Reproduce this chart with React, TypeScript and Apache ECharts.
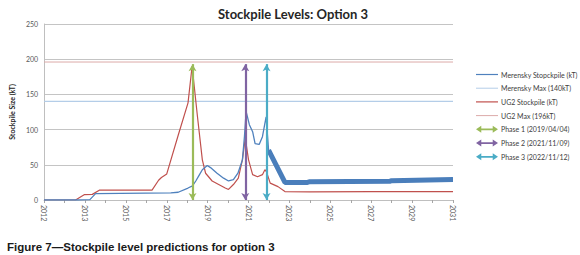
import React, { useEffect, useRef } from "react";
import * as echarts from "echarts";

// x positions are in axis-tick units (tick 0 = "2012", tick 10 = "2031")
const xTickLabels = ["2012", "2013", "2015", "2017", "2019", "2021", "2023", "2025", "2027", "2029", "2031"];
const yTicks = { min: 0, max: 250, step: 50 };

const merenskyStockpile: [number, number][] = [
  [0, 0], [0.82, 0], [1.12, 0.5], [1.26, 9], [3.1, 10], [3.28, 11], [3.52, 17], [3.63, 20],
  [3.71, 27], [3.79, 35], [3.87, 43], [3.99, 49], [4.07, 46], [4.23, 38], [4.39, 31], [4.51, 27],
  [4.63, 29], [4.74, 38], [4.85, 57], [4.9, 90], [4.94, 126], [5.02, 107], [5.1, 97], [5.16, 80],
  [5.26, 79], [5.34, 90], [5.4, 109], [5.43, 118], [5.49, 71], [5.89, 25], [6.44, 25], [6.5, 26],
  [8.45, 26.5], [8.5, 27.5], [10, 29],
];
const ug2Stockpile: [number, number][] = [
  [0, 0], [0.77, 0], [0.98, 7.5], [1.18, 8], [1.35, 14], [2.64, 14], [2.8, 28], [2.87, 32],
  [3.0, 37], [3.28, 92], [3.52, 138], [3.62, 190], [3.75, 119], [3.87, 57], [3.95, 38], [4.11, 27],
  [4.27, 22], [4.43, 17], [4.51, 15], [4.63, 22], [4.75, 31], [4.85, 57], [4.92, 88], [5.0, 57],
  [5.1, 36], [5.22, 33], [5.34, 36], [5.4, 43], [5.44, 40], [5.53, 24], [5.72, 19], [5.89, 12],
  [6.5, 11.5], [8.0, 12], [10, 12],
];
const merenskyMax = 140;
const ug2Max = 196;
const phaseNames = ["Phase 1 (2019/04/04)", "Phase 2 (2021/11/09)", "Phase 3 (2022/11/12)"];
const phaseX = [3.63, 4.92, 5.44];
const phaseTop = 193;
const phaseColors = ["#9bbb59", "#8064a2", "#4bacc6"];
const noisyFrom = 5.49;

const FONT = "Lato";
const arrowIcon = "path://M0,4 L6,0 L6,3 L19,3 L19,0 L25,4 L19,8 L19,5 L6,5 L6,8 Z";
const lineIcon = "path://M0,0 L22,0 L22,1.2 L0,1.2 Z";
const thinLineIcon = "path://M0,0 L22,0 L22,1 L0,1 Z";

export default function App() {
  const ref = useRef<HTMLDivElement>(null);
  useEffect(() => {
    document.body.style.margin = "0";
    const chart = echarts.init(ref.current!, null, { renderer: "svg" });
    const phaseSeries = phaseNames.map((name, i) => ({
      name,
      type: "line",
      data: [],
      itemStyle: { color: phaseColors[i] },
      lineStyle: { color: phaseColors[i], width: 2 },
      markLine: {
        silent: true,
        symbol: ["arrow", "arrow"],
        symbolSize: [6, 7],
        label: { show: false },
        lineStyle: { color: phaseColors[i], width: 2.2, type: "solid" },
        data: [[{ coord: [phaseX[i], 0] }, { coord: [phaseX[i], phaseTop] }]],
      },
    }));
    chart.setOption({
      animation: false,
      textStyle: { fontFamily: FONT },
      title: {
        text: "Stockpile Levels: Option 3",
        left: 213,
        top: 2,
        textStyle: { fontFamily: FONT, fontSize: 13, fontWeight: "bold", color: "#262626" },
      },
      legend: {
        orient: "vertical",
        left: 471,
        top: 66,
        itemWidth: 22,
        itemHeight: 8,
        itemGap: 6.7,
        textStyle: { fontFamily: FONT, fontSize: 7, color: "#404040", padding: [0, 0, 0, -2] },
        data: [
          { name: "Merensky Stopckpile (kT)", icon: lineIcon },
          { name: "Merensky Max (140kT)", icon: thinLineIcon },
          { name: "UG2 Stockpile (kT)", icon: lineIcon },
          { name: "UG2 Max (196kT)", icon: thinLineIcon },
          ...phaseNames.map((n) => ({ name: n, icon: arrowIcon })),
        ],
      },
      grid: { left: 32, right: 127, top: 24, bottom: 55, containLabel: false },
      xAxis: {
        type: "value",
        min: 0,
        max: xTickLabels.length - 1,
        interval: 1,
        axisLine: { show: true, lineStyle: { color: "#bfbfbf" } },
        axisTick: { show: true, length: 3, lineStyle: { color: "#a6a6a6" } },
        minorTick: { show: true, splitNumber: 2, length: 3, lineStyle: { color: "#a6a6a6" } },
        splitLine: { show: false },
        axisLabel: {
          rotate: -90,
          fontSize: 7,
          color: "#595959",
          margin: 5,
          formatter: (v: number) => xTickLabels[Math.round(v)] ?? "",
        },
      },
      yAxis: {
        type: "value",
        min: yTicks.min,
        max: yTicks.max,
        interval: yTicks.step,
        name: "Stockpile Size (kT)",
        nameLocation: "middle",
        nameRotate: 90,
        nameGap: 28,
        nameTextStyle: { fontFamily: FONT, fontSize: 7, fontWeight: "bold", color: "#262626" },
        axisLine: { show: true, lineStyle: { color: "#bfbfbf" } },
        axisTick: { show: false },
        splitLine: { show: true, lineStyle: { color: "#c4c4c4", width: 1 } },
        axisLabel: { fontSize: 7, color: "#595959", margin: 6 },
      },
      series: [
        {
          name: "Merensky Max (140kT)",
          type: "line",
          symbol: "none",
          z: 3,
          data: [[0, merenskyMax], [xTickLabels.length - 1, merenskyMax]],
          itemStyle: { color: "#b4cde8" },
          lineStyle: { color: "#b4cde8", width: 1.2 },
        },
        {
          name: "UG2 Max (196kT)",
          type: "line",
          symbol: "none",
          data: [[0, ug2Max], [xTickLabels.length - 1, ug2Max]],
          itemStyle: { color: "#dcaaa9" },
          lineStyle: { color: "#dcaaa9", width: 1 },
        },
        {
          name: "UG2 Stockpile (kT)",
          type: "line",
          symbol: "none",
          data: ug2Stockpile,
          itemStyle: { color: "#c0504d" },
          lineStyle: { color: "#c0504d", width: 1.2 },
        },
        {
          name: "Merensky Stopckpile (kT)",
          type: "line",
          symbol: "none",
          data: merenskyStockpile,
          itemStyle: { color: "#4f81bd" },
          lineStyle: { color: "#4f81bd", width: 1.3 },
        },
        {
          name: "merenskyBand",
          type: "line",
          symbol: "none",
          data: merenskyStockpile.filter((p) => p[0] >= noisyFrom),
          itemStyle: { color: "#4f81bd" },
          lineStyle: { color: "#4a7ebb", width: 5 },
        },
        ...phaseSeries,
      ],
      graphic: [
        {
          type: "text",
          left: 7,
          top: 241,
          style: {
            text: "Figure 7\u2014Stockpile level predictions for option 3",
            font: "bold 11.5px 'Liberation Sans', Arial, sans-serif",
            fill: "#1a1a1a",
          },
        },
      ],
    });
    return () => chart.dispose();
  }, []);
  return <div ref={ref} style={{ width: 580, height: 255 }} />;
}
